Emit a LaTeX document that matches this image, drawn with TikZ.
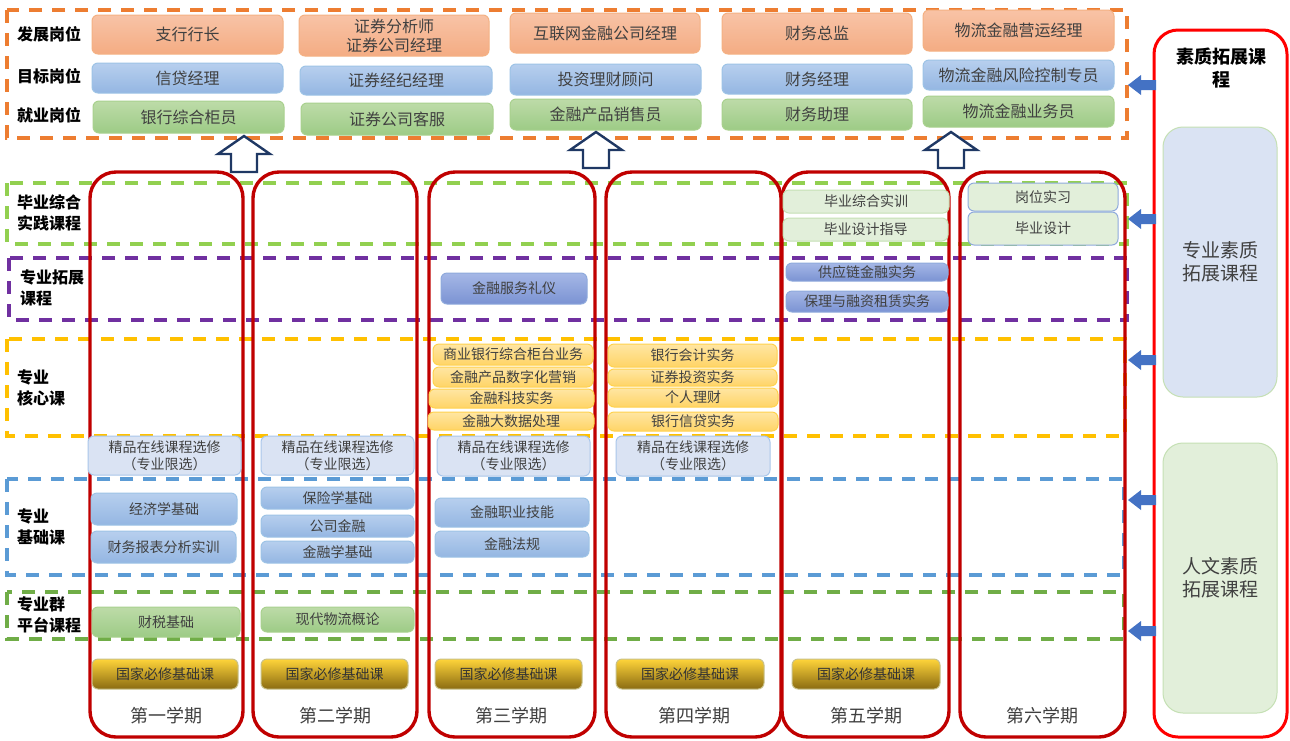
\documentclass[tikz,border=0pt]{standalone}
\usepackage{fontspec}
\setmainfont{Noto Sans CJK SC}
\definecolor{txt}{HTML}{404040}
\definecolor{orgT}{HTML}{F8C3A6}
\definecolor{orgB}{HTML}{F4AC83}
\definecolor{orgD}{HTML}{F4B183}
\definecolor{bluT}{HTML}{B7CFEE}
\definecolor{bluB}{HTML}{94B6E2}
\definecolor{bluD}{HTML}{9DC3E6}
\definecolor{grnT}{HTML}{BDDBA8}
\definecolor{grnB}{HTML}{9DCB86}
\definecolor{grnD}{HTML}{A9D18E}
\definecolor{lgrF}{HTML}{E2EFDA}
\definecolor{lgrD}{HTML}{C5E0B4}
\definecolor{purT}{HTML}{A5B7E6}
\definecolor{purB}{HTML}{7B93D3}
\definecolor{purD}{HTML}{8FAADC}
\definecolor{corT}{HTML}{FFE6A3}
\definecolor{corB}{HTML}{FFD466}
\definecolor{corD}{HTML}{FFD24D}
\definecolor{lbF}{HTML}{DAE3F3}
\definecolor{lbD}{HTML}{A9C6EA}
\definecolor{golT}{HTML}{FFD43A}
\definecolor{golB}{HTML}{8A6B12}
\definecolor{golD}{HTML}{C8C18A}
\definecolor{orgDash}{HTML}{ED7D31}
\definecolor{gDashA}{HTML}{92D050}
\definecolor{pDash}{HTML}{7030A0}
\definecolor{yDash}{HTML}{FFC000}
\definecolor{bDash}{HTML}{5B9BD5}
\definecolor{gDashB}{HTML}{70AD47}
\definecolor{semred}{HTML}{C00000}
\definecolor{brred}{HTML}{FF0000}
\definecolor{navy}{HTML}{1F3864}
\definecolor{arrb}{HTML}{4472C4}
\tikzset{
  base/.style={rounded corners=6pt, line width=1pt, inner sep=0pt, text=txt, align=center, font=\fontsize{14}{17}\selectfont},
  orgbox/.style={base, draw=orgD, top color=orgT, bottom color=orgB, font=\fontsize{16}{19}\selectfont},
  blubox/.style={base, draw=bluD, top color=bluT, bottom color=bluB, font=\fontsize{16}{19}\selectfont},
  grnbox/.style={base, draw=grnD, top color=grnT, bottom color=grnB, font=\fontsize{16}{19}\selectfont},
  lgrbox/.style={base, draw=lgrD, fill=lgrF},
  lgbbox/.style={base, draw=purD, fill=lgrF},
  purbox/.style={base, draw=purD, top color=purT, bottom color=purB},
  corbox/.style={base, draw=corD, top color=corT, bottom color=corB},
  jpbox/.style={base, draw=lbD, fill=lbF},
  basbox/.style={base, draw=bluD, top color=bluT, bottom color=bluB},
  platbox/.style={base, draw=grnD, top color=grnT, bottom color=grnB},
  golbox/.style={base, draw=golD, top color=golT, bottom color=golB, text={black!80}},
  semcol/.style={draw=semred, line width=3.4pt, rounded corners=26pt, inner sep=0pt},
  rcol/.style={draw=brred, line width=3pt, rounded corners=24pt, inner sep=0pt},
  rbox/.style={rounded corners=20pt, line width=1pt, inner sep=0pt, text=txt, align=center, font=\fontsize{19}{23}\selectfont},
  band/.style={dash pattern=on 13pt off 10pt, line width=3.2pt},
  lab/.style={font=\fontsize{16}{21}\selectfont\bfseries, align=left, inner sep=0pt, text=black, anchor=west},
  sem/.style={font=\fontsize{18}{20}\selectfont, text=txt, inner sep=0pt}
}
\newcommand\bx[7]{\node[#2, minimum width={(#5-#3)*1pt}, minimum height={(#6-#4)*1pt}] (#1) at ({(#3+#5)/2},{(#4+#6)/2}) {#7};}
\newcommand\uparr[3]{\draw[navy, line width=2.4pt, fill=white, line join=miter] (#1,#2) -- ({#1+26},{#2+18}) -- ({#1+13},{#2+18}) -- ({#1+13},#3) -- ({#1-13},#3) -- ({#1-13},{#2+18}) -- ({#1-26},{#2+18}) -- cycle;}
\newcommand\larr[1]{\fill[arrb] (1128,#1) -- (1141,{#1-10}) -- (1141,{#1-5}) -- (1156,{#1-5}) -- (1156,{#1+5}) -- (1141,{#1+5}) -- (1141,{#1+10}) -- cycle;}
\begin{document}
\begin{tikzpicture}[x=1pt,y=-1pt]
\useasboundingbox[fill=white] (0,0) rectangle (1290,740);
% bands
\draw[band, orgDash] (7,10) rectangle (1127,138);
\draw[band, gDashA] (7,183) rectangle (1127,244);
\draw[band, pDash] (9,258) rectangle (1127,320);
\draw[band, yDash] (7,339) rectangle (1125,436);
\draw[band, bDash] (7,479) rectangle (1124,575);
\draw[band, gDashB] (7,592) rectangle (1124,639);
% left labels
\node[lab] (l1) at (17,34) {发展岗位};
\node[lab] (l2) at (17,76) {目标岗位};
\node[lab] (l3) at (17,115) {就业岗位};
\node[lab] (l4) at (17,213) {毕业综合\\实践课程};
\node[lab] (l5) at (20,288) {专业拓展\\课程};
\node[lab] (l6) at (17,388) {专业\\核心课};
\node[lab] (l7) at (17,527) {专业\\基础课};
\node[lab] (l8) at (17,615) {专业群\\平台课程};
% semester columns
\bx{s1}{semcol}{90}{172}{243}{737}{}
\bx{s2}{semcol}{253}{172}{417}{737}{}
\bx{s3}{semcol}{429}{172}{595}{737}{}
\bx{s4}{semcol}{606}{172}{781}{737}{}
\bx{s5}{semcol}{782}{172}{949}{737}{}
\bx{s6}{semcol}{960}{172}{1125}{737}{}
\node[sem] (t1) at (166,716) {第一学期};
\node[sem] (t2) at (335,716) {第二学期};
\node[sem] (t3) at (511,716) {第三学期};
\node[sem] (t4) at (694,716) {第四学期};
\node[sem] (t5) at (866,716) {第五学期};
\node[sem] (t6) at (1042,716) {第六学期};
% top boxes
\bx{a1}{orgbox}{92}{15}{283}{54}{支行行长}
\bx{b1}{blubox}{92}{63}{283}{93}{信贷经理}
\bx{c1}{grnbox}{93}{101}{284}{133}{银行综合柜员}
\bx{a2}{orgbox}{299}{15}{489}{56}{证券分析师\\证券公司经理}
\bx{b2}{blubox}{300}{66}{492}{95}{证券经纪经理}
\bx{c2}{grnbox}{301}{103}{493}{135}{证券公司客服}
\bx{a3}{orgbox}{510}{13}{700}{53}{互联网金融公司经理}
\bx{b3}{blubox}{510}{64}{701}{95}{投资理财顾问}
\bx{c3}{grnbox}{510}{99}{701}{130}{金融产品销售员}
\bx{a4}{orgbox}{722}{13}{912}{54}{财务总监}
\bx{b4}{blubox}{722}{64}{912}{94}{财务经理}
\bx{c4}{grnbox}{722}{99}{912}{130}{财务助理}
\bx{a5}{orgbox}{923}{10}{1114}{51}{物流金融营运经理}
\bx{b5}{blubox}{923}{60}{1114}{90}{物流金融风险控制专员}
\bx{c5}{grnbox}{923}{96}{1114}{127}{物流金融业务员}
% graduation practice
\bx{g1}{lgrbox}{783}{190}{949}{213}{毕业综合实训}
\bx{g2}{lgrbox}{783}{218}{948}{241}{毕业设计指导}
\bx{g3}{lgbbox}{968}{183}{1118}{211}{岗位实习}
\bx{g4}{lgbbox}{968}{212}{1118}{245}{毕业设计}
% extension
\bx{e1}{purbox}{441}{273}{587}{304}{金融服务礼仪}
\bx{e2}{purbox}{786}{263}{948}{281}{供应链金融实务}
\bx{e3}{purbox}{786}{291}{948}{312}{保理与融资租赁实务}
% core
\bx{k1}{corbox}{433}{344}{593}{365}{商业银行综合柜台业务}
\bx{k2}{corbox}{433}{367}{593}{387}{金融产品数字化营销}
\bx{k3}{corbox}{429}{389}{594}{408}{金融科技实务}
\bx{k4}{corbox}{428}{412}{594}{430}{金融大数据处理}
\bx{k5}{corbox}{608}{344}{777}{367}{银行会计实务}
\bx{k6}{corbox}{608}{369}{777}{386}{证券投资实务}
\bx{k7}{corbox}{608}{388}{778}{407}{个人理财}
\bx{k8}{corbox}{608}{412}{778}{431}{银行信贷实务}
% online electives
\bx{j1}{jpbox}{88}{436}{241}{475}{精品在线课程选修\\（专业限选）}
\bx{j2}{jpbox}{261}{436}{414}{475}{精品在线课程选修\\（专业限选）}
\bx{j3}{jpbox}{437}{436}{590}{476}{精品在线课程选修\\（专业限选）}
\bx{j4}{jpbox}{616}{436}{770}{476}{精品在线课程选修\\（专业限选）}
% basics
\bx{f1}{basbox}{91}{493}{237}{525}{经济学基础}
\bx{f2}{basbox}{91}{531}{236}{563}{财务报表分析实训}
\bx{f3}{basbox}{261}{487}{414}{509}{保险学基础}
\bx{f4}{basbox}{261}{515}{414}{537}{公司金融}
\bx{f5}{basbox}{261}{541}{414}{563}{金融学基础}
\bx{f6}{basbox}{435}{498}{589}{527}{金融职业技能}
\bx{f7}{basbox}{435}{531}{589}{557}{金融法规}
% platform
\bx{p1}{platbox}{92}{607}{240}{637}{财税基础}
\bx{p2}{platbox}{261}{607}{414}{632}{现代物流概论}
% national required
\bx{n1}{golbox}{92}{659}{238}{689}{国家必修基础课}
\bx{n2}{golbox}{261}{659}{408}{689}{国家必修基础课}
\bx{n3}{golbox}{435}{659}{582}{689}{国家必修基础课}
\bx{n4}{golbox}{616}{659}{764}{689}{国家必修基础课}
\bx{n5}{golbox}{792}{659}{940}{689}{国家必修基础课}
% hollow up arrows
\uparr{244}{136}{172}
\uparr{596}{132}{168}
\uparr{951}{132}{168}
% right column
\bx{rc}{rcol}{1154}{30}{1287}{737}{}
\node[font=\fontsize{18}{23}\selectfont\bfseries, align=center, inner sep=0pt] (rt) at (1221,68) {素质拓展课\\程};
\bx{r1}{rbox, draw=lgrD, fill=lbF}{1163}{127}{1277}{397}{专业素质\\拓展课程}
\bx{r2}{rbox, draw=lgrD, fill=lgrF}{1163}{443}{1277}{713}{人文素质\\拓展课程}
\larr{85}
\larr{219}
\larr{360}
\larr{500}
\larr{631}
\end{tikzpicture}
\end{document}
